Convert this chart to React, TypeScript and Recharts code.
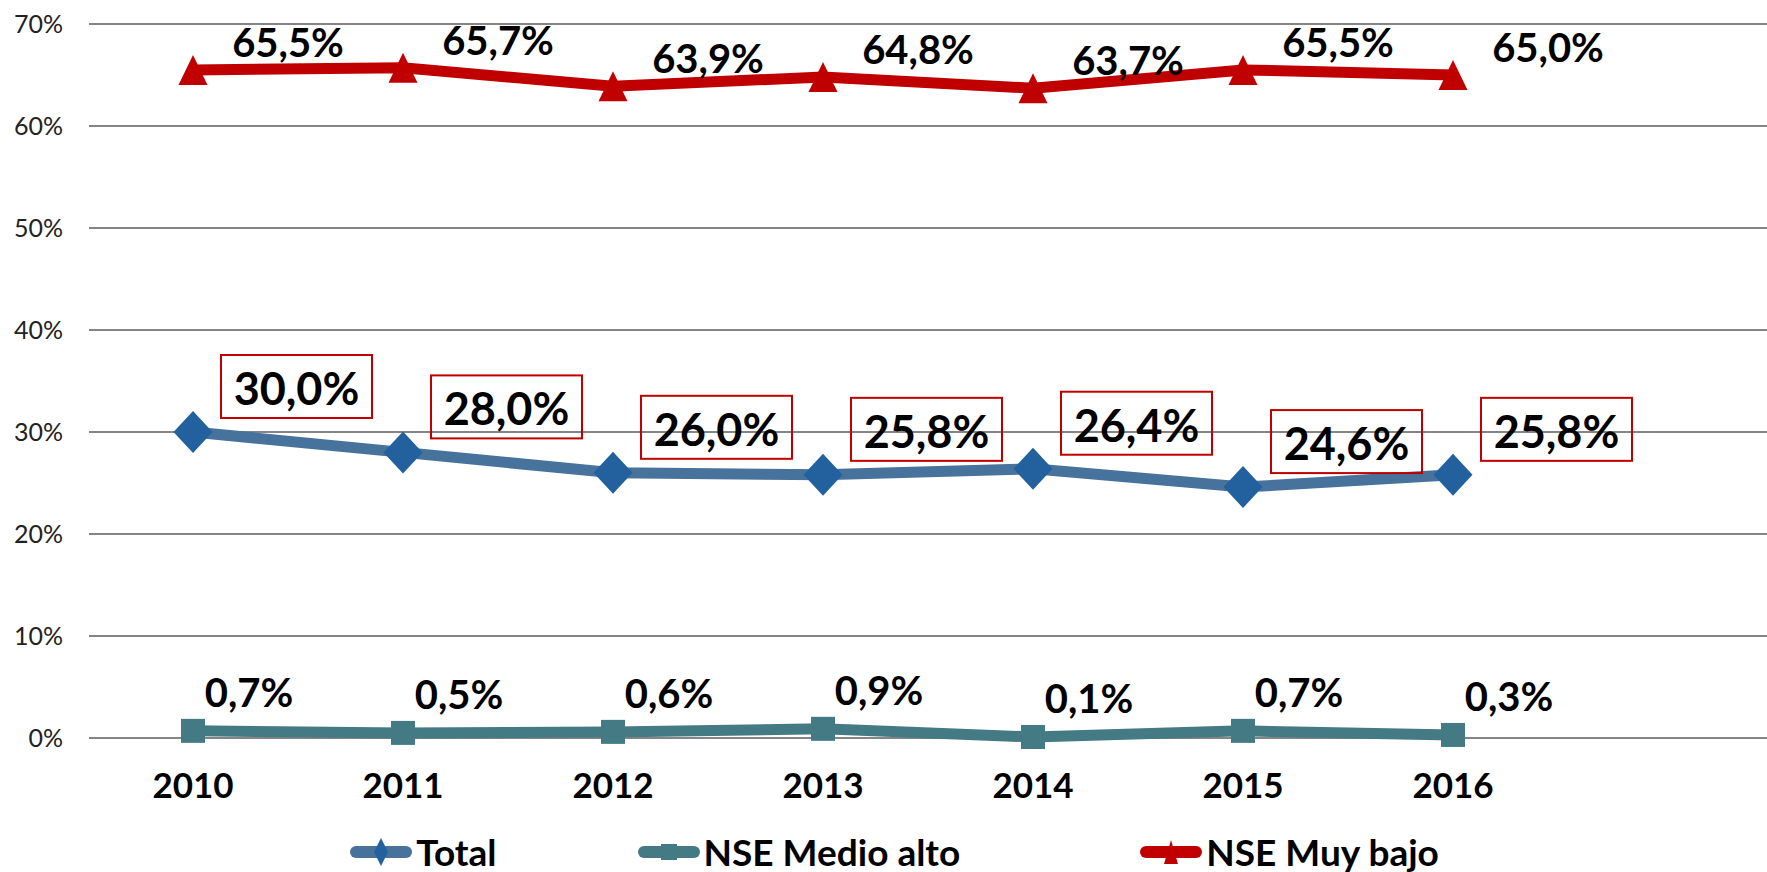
import React from "react";
import {
    LineChart,
    Line,
    XAxis,
    YAxis,
    CartesianGrid,
    Legend,
    LabelList,
} from "recharts";

// ── Data ────────────────────────────────────────────────────────────────────────
const YEARS = ["2010", "2011", "2012", "2013", "2014", "2015", "2016"];
const TOTAL = [30.0, 28.0, 26.0, 25.8, 26.4, 24.6, 25.8];
const MEDIO_ALTO = [0.7, 0.5, 0.6, 0.9, 0.1, 0.7, 0.3];
const MUY_BAJO = [65.5, 65.7, 63.9, 64.8, 63.7, 65.5, 65.0];
const Y_TICKS = [0, 10, 20, 30, 40, 50, 60, 70];

const data = YEARS.map((year, i) => ({
    year,
    total: TOTAL[i],
    medioAlto: MEDIO_ALTO[i],
    muyBajo: MUY_BAJO[i],
}));

// ── Styles ──────────────────────────────────────────────────────────────────────
const FONT = "Lato, 'DejaVu Sans', sans-serif";
const RED = "#c00000";
const TOTAL_LINE = "#46729c";
const TOTAL_DOT = "#22609e";
const TEAL = "#437a83";
const GRID = "#858585";

const fmt = (v: number) => `${v.toFixed(1).replace(".", ",")}%`;

// ── Markers ─────────────────────────────────────────────────────────────────────
const Diamond = (props: any) => {
    const { cx, cy, index } = props;
    if (cx == null || cy == null) return <g key={`d-${index}`} />;
    return (
        <polygon
            key={`d-${index}`}
            points={`${cx},${cy - 21} ${cx + 19.5},${cy} ${cx},${cy + 21} ${cx - 19.5},${cy}`}
            fill={TOTAL_DOT}
        />
    );
};

const Square = (props: any) => {
    const { cx, cy, index } = props;
    if (cx == null || cy == null) return <g key={`s-${index}`} />;
    return <rect key={`s-${index}`} x={cx - 12} y={cy - 12} width={24} height={24} fill={TEAL} />;
};

const Triangle = (props: any) => {
    const { cx, cy, index } = props;
    if (cx == null || cy == null) return <g key={`t-${index}`} />;
    return (
        <polygon
            key={`t-${index}`}
            points={`${cx},${cy - 15} ${cx + 14.5},${cy + 15} ${cx - 14.5},${cy + 15}`}
            fill={RED}
        />
    );
};

// ── Labels ──────────────────────────────────────────────────────────────────────
const BoxLabel = (props: any) => {
    const { x, y, value } = props;
    const bx = x + 28;
    const by = y - 14 - 63;
    return (
        <g>
            <rect x={bx} y={by} width={151} height={63} fill="none" stroke={RED} strokeWidth={2} />
            <text
                x={bx + 75.5}
                y={by + 33}
                textAnchor="middle"
                dominantBaseline="central"
                fontFamily={FONT}
                fontWeight={700}
                fontSize={45}
                fill="#000"
            >
                {fmt(value)}
            </text>
        </g>
    );
};

const makePlainLabel = (dx: number, dy: number) => (props: any) => {
    const { x, y, value } = props;
    return (
        <text
            x={x + dx}
            y={y + dy}
            textAnchor="middle"
            dominantBaseline="central"
            fontFamily={FONT}
            fontWeight={700}
            fontSize={40}
            fill="#000"
        >
            {fmt(value)}
        </text>
    );
};

const RedLabel = makePlainLabel(95, -28);
const TealLabel = makePlainLabel(56, -39);

// ── Legend ──────────────────────────────────────────────────────────────────────
const LEGEND_ITEMS = [
    { label: "Total", color: TOTAL_LINE, marker: "diamond", gapAfter: 141 },
    { label: "NSE Medio alto", color: TEAL, marker: "square", gapAfter: 180 },
    { label: "NSE Muy bajo", color: RED, marker: "triangle", gapAfter: 0 },
];

const LegendIcon = ({ color, marker }: { color: string; marker: string }) => (
    <svg width={62} height={34} style={{ display: "block" }}>
        <line x1={6} y1={17} x2={56} y2={17} stroke={color} strokeWidth={12} strokeLinecap="round" />
        {marker === "diamond" && <polygon points="31,3 38,17 31,31 24,17" fill={TOTAL_DOT} />}
        {marker === "square" && <rect x={23} y={9} width={16} height={16} fill={TEAL} />}
        {marker === "triangle" && <polygon points="31,5 38,29 24,29" fill={RED} />}
    </svg>
);

const CustomLegend = () => (
    <div
        style={{
            display: "flex",
            justifyContent: "center",
            alignItems: "flex-start",
            height: 56,
            paddingTop: 19,
            paddingLeft: 22,
            boxSizing: "border-box",
            fontFamily: FONT,
            fontWeight: 700,
            fontSize: 37,
            color: "#000",
        }}
    >
        {LEGEND_ITEMS.map((item) => (
            <div
                key={item.label}
                style={{ display: "flex", alignItems: "center", height: 34, marginRight: item.gapAfter }}
            >
                <LegendIcon color={item.color} marker={item.marker} />
                <span style={{ marginLeft: 4, lineHeight: "34px" }}>{item.label}</span>
            </div>
        ))}
    </div>
);

// ── Main ────────────────────────────────────────────────────────────────────────
export default function App() {
    return (
        <div style={{ width: 1767, height: 872, background: "#fff" }}>
            <style>{`body { margin: 0; }`}</style>
            <LineChart
                width={1767}
                height={872}
                data={data}
                margin={{ top: 24, right: 0, bottom: 0, left: 0 }}
            >
                <CartesianGrid vertical={false} stroke={GRID} strokeWidth={2} />
                <XAxis
                    dataKey="year"
                    axisLine={false}
                    tickLine={false}
                    tickSize={0}
                    tickMargin={35}
                    height={78}
                    padding={{ left: 104, right: 314 }}
                    tick={{ fontFamily: FONT, fontWeight: 700, fontSize: 35, fill: "#000" }}
                    interval={0}
                />
                <YAxis
                    domain={[0, 70]}
                    ticks={Y_TICKS}
                    width={89}
                    axisLine={false}
                    tickLine={false}
                    tickSize={0}
                    tickMargin={26}
                    tickFormatter={(v: number) => `${v}%`}
                    tick={{ fontFamily: FONT, fontSize: 25, fill: "#222" }}
                />
                <Legend verticalAlign="bottom" content={<CustomLegend />} />
                <Line
                    dataKey="medioAlto"
                    name="NSE Medio alto"
                    stroke={TEAL}
                    strokeWidth={11}
                    dot={Square}
                    activeDot={false}
                    isAnimationActive={false}
                >
                    <LabelList dataKey="medioAlto" content={TealLabel} />
                </Line>
                <Line
                    dataKey="total"
                    name="Total"
                    stroke={TOTAL_LINE}
                    strokeWidth={11}
                    dot={Diamond}
                    activeDot={false}
                    isAnimationActive={false}
                >
                    <LabelList dataKey="total" content={BoxLabel} />
                </Line>
                <Line
                    dataKey="muyBajo"
                    name="NSE Muy bajo"
                    stroke={RED}
                    strokeWidth={11}
                    dot={Triangle}
                    activeDot={false}
                    isAnimationActive={false}
                >
                    <LabelList dataKey="muyBajo" content={RedLabel} />
                </Line>
            </LineChart>
        </div>
    );
}
